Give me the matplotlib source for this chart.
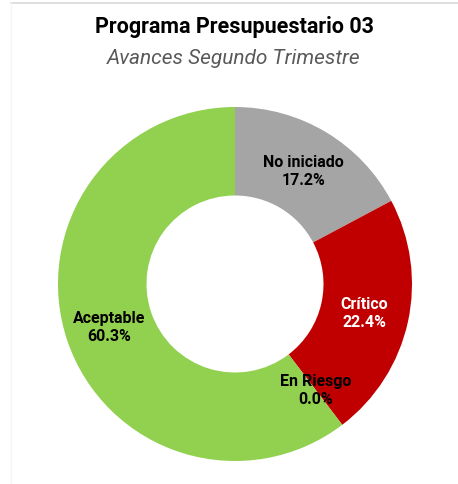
import matplotlib.pyplot as plt
from matplotlib.lines import Line2D
import numpy as np

# ------------------ DATA ------------------
categorias = ['No iniciado', 'Crítico', 'En Riesgo', 'Aceptable']
porcentajes = [17.2, 22.4, 0.0, 60.3]
colores = ['#A5A5A5', '#C00000', '#FFC000', '#92D050']
color_texto = ['black', 'white', 'black', 'black']
titulo = 'Programa Presupuestario 03'
subtitulo = 'Avances Segundo Trimestre'
# ------------------------------------------

plt.rcParams['font.family'] = ['Roboto', 'DejaVu Sans']

W, H = 458, 485
fig = plt.figure(figsize=(W / 100, H / 100), dpi=100)
fig.patch.set_facecolor('white')

# donut centre and radius in pixels
cx, cy, r = 235, 285, 177
ax = fig.add_axes([(cx - r) / W, (H - cy - r) / H, 2 * r / W, 2 * r / H])

etiquetas = [f"{c}\n{p:.1f}%" for c, p in zip(categorias, porcentajes)]
wedges, textos = ax.pie(
    porcentajes, colors=colores, startangle=90, counterclock=False,
    labels=etiquetas, labeldistance=0.75,
    wedgeprops=dict(width=0.5, linewidth=0),
    textprops=dict(ha='center', va='center', fontsize=11.5, fontweight='bold', linespacing=1.25),
)
for t, c in zip(textos, color_texto):
    t.set_color(c)
ax.set_xlim(-1, 1)
ax.set_ylim(-1, 1)
ax.set_aspect('equal')

fig.text(234 / W, 1 - 27 / H, titulo, ha='center', va='center',
         fontsize=15.5, fontweight='bold', color='black')
fig.text(234 / W, 1 - 58 / H, subtitulo, ha='center', va='center',
         fontsize=15, style='italic', color='#595959')

# chart frame
fig.add_artist(Line2D([11 / W, 1], [1 - 4 / H, 1 - 4 / H], color='#D9D9D9', linewidth=1.2))
fig.add_artist(Line2D([11 / W, 11 / W], [0, 1 - 4 / H], color='#F5F5F5', linewidth=1))

fig.savefig('out.png', dpi=100)
